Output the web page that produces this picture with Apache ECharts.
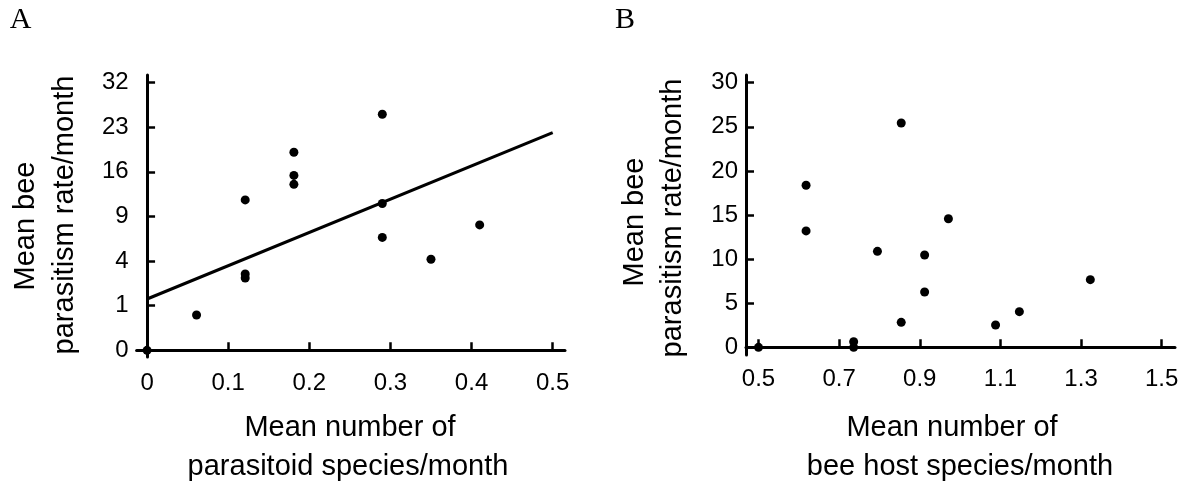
<!DOCTYPE html>
<html>
<head>
<meta charset="utf-8">
<script src="https://cdn.jsdelivr.net/npm/echarts@6/dist/echarts.min.js"></script>
<style>
  html, body { margin: 0; padding: 0; background: #fff; }
  #chart { width: 1189px; height: 483px; }
</style>
</head>
<body>
<div id="chart"></div>
<script>
// Panel A: parasitoid species vs parasitism rate (y plotted on the transformed scale, one unit per tick)
const parasitoidX = [0.0, 0.061, 0.121, 0.121, 0.121, 0.181, 0.181, 0.181, 0.290, 0.290, 0.290, 0.350, 0.410];
const parasitismA = [0.0, 0.79, 3.37, 1.71, 1.62, 4.44, 3.92, 3.72, 5.29, 3.29, 2.53, 2.04, 2.81];
const fitX = [0.0, 0.5];
const fitY = [1.15, 4.88];
const xTicksA = [0, 0.1, 0.2, 0.3, 0.4, 0.5];
const yTicksA = [0, 1, 2, 3, 4, 5, 6];
const yTickLabelsA = ['0', '1', '4', '9', '16', '23', '32'];

// Panel B: bee host species vs parasitism rate
const hostX = [0.50, 0.618, 0.618, 0.736, 0.736, 0.795, 0.854, 0.854, 0.912, 0.912, 0.971, 1.088, 1.147, 1.323];
const parasitismB = [0.0, 18.37, 13.2, 0.64, 0.0, 10.88, 25.43, 2.83, 10.46, 6.27, 14.58, 2.53, 4.04, 7.67];
const xTicksB = [0.5, 0.7, 0.9, 1.1, 1.3, 1.5];
const yTicksB = [0, 5, 10, 15, 20, 25, 30];

const FONT = '"Liberation Sans", Arial, sans-serif';

const chart = echarts.init(document.getElementById('chart'));

const axisLine = { show: true, lineStyle: { color: '#000', width: 3 } };
const axisTick = { show: true, inside: true, length: 8, lineStyle: { color: '#000', width: 2.5 } };
const tickLabel = { color: '#000', fontFamily: FONT, fontSize: 24 };
const dotStyle = { color: '#000', opacity: 1 };

function zip(xs, ys) {
    return xs.map((x, i) => [x, ys[i]]);
}

function title(text, x, y, vertical) {
    return {
        type: 'text',
        x: x,
        y: y,
        rotation: vertical ? Math.PI / 2 : 0,
        style: {
            text: text,
            fill: '#000',
            font: '29px ' + FONT,
            align: 'center',
            verticalAlign: 'middle'
        }
    };
}

const option = {
    backgroundColor: '#fff',
    animation: false,
    grid: [
        { left: 136.6, top: 75, width: 428.4, height: 282 },
        { left: 746, top: 75, width: 429, height: 280 }
    ],
    xAxis: [
        {
            gridIndex: 0, type: 'value', min: -0.0129, max: 0.5152,
            axisLine: axisLine,
            axisTick: Object.assign({ customValues: xTicksA }, axisTick),
            axisLabel: Object.assign({ customValues: xTicksA, margin: 14 }, tickLabel),
            splitLine: { show: false }
        },
        {
            gridIndex: 1, type: 'value', min: 0.469, max: 1.533,
            axisLine: axisLine,
            axisTick: Object.assign({ customValues: xTicksB }, axisTick),
            axisLabel: Object.assign({ customValues: xTicksB, margin: 12 }, tickLabel),
            splitLine: { show: false }
        }
    ],
    yAxis: [
        {
            gridIndex: 0, type: 'value', min: -0.15, max: 6.17,
            axisLine: axisLine,
            axisTick: Object.assign({ customValues: yTicksA }, axisTick),
            axisLabel: Object.assign({
                customValues: yTicksA,
                margin: 8,
                formatter: v => yTickLabelsA[Math.round(v)]
            }, tickLabel),
            splitLine: { show: false }
        },
        {
            gridIndex: 1, type: 'value', min: -0.87, max: 30.87,
            axisLine: axisLine,
            axisTick: Object.assign({ customValues: yTicksB }, axisTick),
            axisLabel: Object.assign({ customValues: yTicksB, margin: 8 }, tickLabel),
            splitLine: { show: false }
        }
    ],
    series: [
        {
            type: 'scatter', xAxisIndex: 0, yAxisIndex: 0,
            symbol: 'circle', symbolSize: 9,
            itemStyle: dotStyle,
            data: zip(parasitoidX, parasitismA)
        },
        {
            type: 'line', xAxisIndex: 0, yAxisIndex: 0,
            showSymbol: false, symbol: 'none',
            lineStyle: { color: '#000', width: 3 },
            data: zip(fitX, fitY)
        },
        {
            type: 'scatter', xAxisIndex: 1, yAxisIndex: 1,
            symbol: 'circle', symbolSize: 9,
            itemStyle: dotStyle,
            data: zip(hostX, parasitismB)
        }
    ],
    graphic: [
        {
            type: 'text', x: 20.5, y: 20,
            style: { text: 'A', fill: '#000', font: '30px "Liberation Serif", "Times New Roman", serif', align: 'center', verticalAlign: 'middle' }
        },
        {
            type: 'text', x: 625, y: 20,
            style: { text: 'B', fill: '#000', font: '30px "Liberation Serif", "Times New Roman", serif', align: 'center', verticalAlign: 'middle' }
        },
        title('Mean bee', 26, 226, true),
        title('parasitism rate/month', 65, 215, true),
        title('Mean number of', 350, 428, false),
        title('parasitoid species/month', 348, 467, false),
        title('Mean bee', 635, 222, true),
        title('parasitism rate/month', 673, 218, true),
        title('Mean number of', 952, 428, false),
        title('bee host species/month', 960, 467, false)
    ]
};

chart.setOption(option);
</script>
</body>
</html>
